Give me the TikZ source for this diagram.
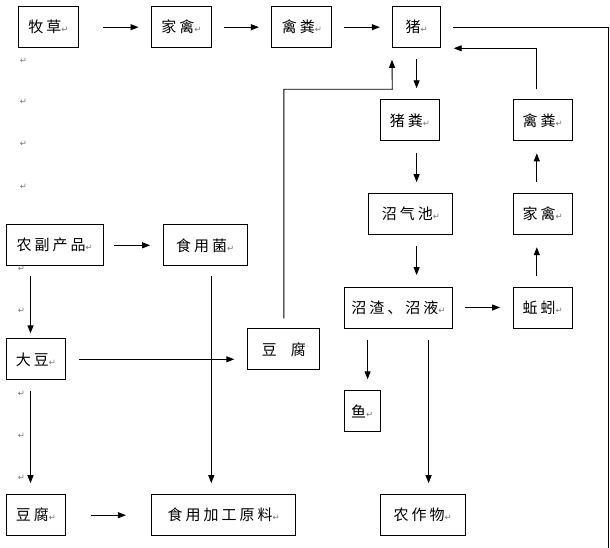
\documentclass[tikz,border=0pt]{standalone}
\usepackage{fontspec}
\setmainfont{Noto Sans CJK SC}[LetterSpace=20]
\newfontfamily\markfont{DejaVu Sans}
\usetikzlibrary{arrows.meta}
\definecolor{markgray}{RGB}{120,120,120}
\newcommand{\retmark}{{\markfont\fontsize{8.5pt}{8.5pt}\selectfont\color{markgray}↵}}

\begin{document}
\begin{tikzpicture}[x=1pt,y=-1pt,
	box/.style={draw,line width=1pt,minimum height=41pt,inner sep=0pt,font=\fontsize{15pt}{15pt}\selectfont},
	arr/.style={draw,line width=0.9pt,-{Triangle[length=8pt,width=6pt]}},
	plain/.style={draw,line width=0.9pt}]

	\useasboundingbox (0,0) rectangle (610,548);

	% Top row
	\node[box,minimum width=60pt] (mucao) at (48.5,27.2) {牧草\retmark};
	\node[box,minimum width=60pt] (jiaqin) at (181.5,27.2) {家禽\retmark};
	\node[box,minimum width=60pt] (qinfen) at (301.9,27.2) {禽粪\retmark};
	\node[box,minimum width=48.5pt] (zhu) at (416.6,27.2) {猪\retmark};

	% Right column
	\node[box,minimum width=59pt] (zhufen) at (410,120.3) {猪粪\retmark};
	\node[box,minimum width=59.5pt] (qinfenb) at (542.8,120.3) {禽粪\retmark};
	\node[box,minimum width=84pt] (zhaoqi) at (410.9,213.8) {沼气池\retmark};
	\node[box,minimum width=59.5pt] (jiaqinb) at (542.8,213.8) {家禽\retmark};
	\node[box,minimum width=108pt] (zhaozha) at (398.4,307.5) {沼渣、沼液\retmark};
	\node[box,minimum width=59.5pt] (qiuyin) at (542.8,307.5) {蚯蚓\retmark};
	\node[box,minimum width=36pt] (yu) at (362.2,411.3) {鱼\retmark};
	\node[box,minimum width=84.5pt] (zuowu) at (422.8,515.2) {农作物\retmark};

	% Left part
	\node[box,minimum width=97pt] (nongfu) at (54.8,245.3) {农副产品\retmark};
	\node[box,minimum width=84.5pt] (jun) at (205.3,245.3) {食用菌\retmark};
	\node[box,minimum width=59.5pt] (dadou) at (36,359.3) {大豆\retmark};
	\node[box,minimum width=72pt] (doufu) at (283.8,349.3) {豆\hspace{14pt}腐};
	\node[box,minimum width=59.5pt] (doufub) at (36,515.2) {豆腐\retmark};
	\node[box,minimum width=144.5pt] (jiagong) at (223.7,515.2) {食用加工原料\retmark};

	% stray paragraph marks
	\foreach \mx/\my [count=\i] in {23.5/61,23.5/101.7,23.5/144.3,23.5/186.7,21.5/269.3,21.5/310.7,21.5/394.3,21.5/435.7,21.5/477.7}
		\node[inner sep=0pt] (mark\i) at (\mx,\my) {\retmark};

	\coordinate (zhuturn) at (392.3,89.3);
	\coordinate (zhuin) at (453.7,48.3);
	\coordinate (edge) at (608.5,548);

	% Top row arrows
	\draw[arr,shorten <=24pt,shorten >=12.5pt] (mucao.east) -- (jiaqin.west);
	\draw[arr,shorten <=12pt,shorten >=12.5pt] (jiaqin.east) -- (qinfen.west);
	\draw[arr,shorten <=12pt,shorten >=12pt] (qinfen.east) -- (zhu.west);
	\draw[plain,shorten <=11.6pt] (zhu.east) -| (edge);

	% Pig manure chain
	\draw[arr,shorten <=10.6pt,shorten >=11pt] (zhu.south) -- (zhu.south |- zhufen.north);
	\draw[arr,shorten <=11.4pt,shorten >=10.6pt] (zhu.south |- zhufen.south) -- (zhu.south |- zhaoqi.north);
	\draw[arr,shorten <=11.4pt,shorten >=11.4pt] (zhu.south |- zhaoqi.south) -- (zhu.south |- zhaozha.north);
	\draw[arr,shorten <=12pt,shorten >=12.4pt] (zhaozha.east |- qiuyin.west) -- (qiuyin.west);
	\draw[arr,shorten <=10.4pt,shorten >=12.4pt] ([xshift=-6pt]qiuyin.north) -- ([xshift=-6pt]jiaqinb.south);
	\draw[arr,shorten <=10.6pt,shorten >=12pt] ([xshift=-6pt]jiaqinb.north) -- ([xshift=-6pt]qinfenb.south);
	\draw[arr,shorten <=10pt] ([xshift=-6pt]qinfenb.north) |- (zhuin);
	\draw[arr,shorten <=11pt,shorten >=11pt] ([xshift=-30.8pt]zhaozha.south) -- ([xshift=-30.8pt]zhaozha.south |- yu.north);
	\draw[arr,shorten <=11pt,shorten >=11pt] ([xshift=30.2pt]zhaozha.south) -- ([xshift=30.2pt]zhaozha.south |- zuowu.north);

	% Tofu back to pig
	\draw[arr,shorten <=10pt,shorten >=11.6pt] (doufu.north) |- (zhuturn) -- (zhu.south west);

	% Left part arrows
	\draw[arr,shorten <=10.2pt,shorten >=12.4pt] (nongfu.east) -- (jun.west);
	\draw[arr,shorten <=10pt,shorten >=5pt] ([xshift=-5.5pt]dadou.north |- nongfu.south) -- ([xshift=-5.5pt]dadou.north);
	\draw[arr,shorten <=13pt,shorten >=13pt] (dadou.east) -- (dadou.east -| doufu.west);
	\draw[arr,shorten <=10.7pt,shorten >=11pt] ([xshift=-5.5pt]dadou.south) -- ([xshift=-5.5pt]doufub.north);
	\draw[arr,shorten <=25pt,shorten >=25pt] (doufub.east) -- (jiagong.west);
	\draw[arr,shorten <=10pt,shorten >=11pt] ([xshift=6pt]jun.south) -- ([xshift=6pt]jun.south |- jiagong.north);

\end{tikzpicture}
\end{document}
